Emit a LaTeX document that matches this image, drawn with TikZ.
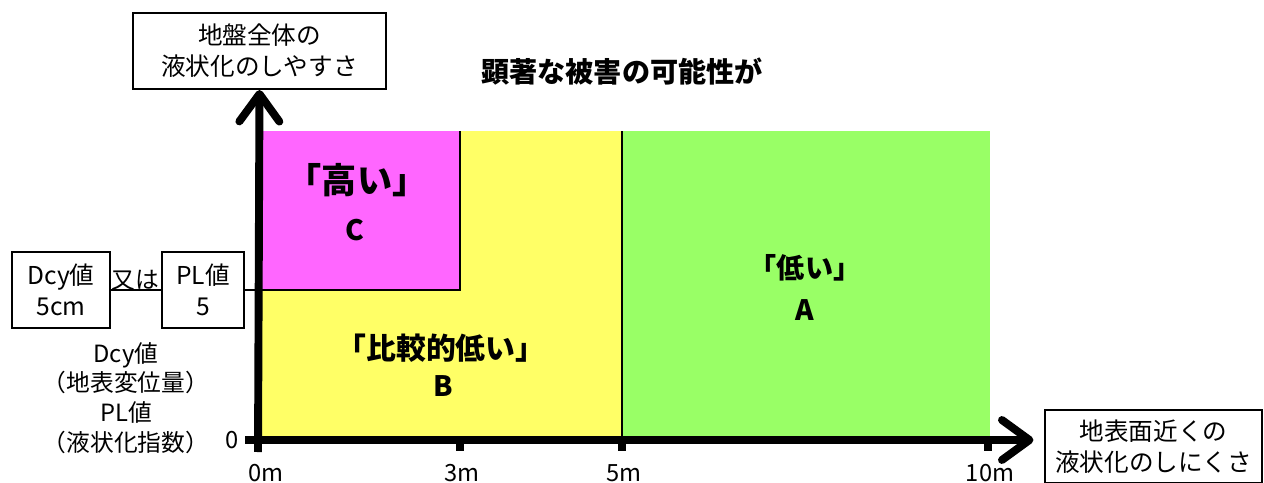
\documentclass[tikz,border=0pt]{standalone}
\usepackage{fontspec}
\setmainfont{Noto Sans CJK JP}
\usetikzlibrary{arrows.meta}
\definecolor{cmag}{HTML}{FF66FF}
\definecolor{cyel}{HTML}{FFFF66}
\definecolor{cgrn}{HTML}{99FF66}
\begin{document}
\begin{tikzpicture}[x=0.02cm,y=-0.02cm,
  lbl/.style={font=\fontsize{13.5}{17}\selectfont,align=center,inner sep=0pt},
  big/.style={font=\fontsize{16}{20}\selectfont\bfseries,align=center,inner sep=0pt},
  boxed/.style={draw,line width=1.2pt,align=center,font=\fontsize{14}{17.5}\selectfont,inner sep=0pt},
  axis/.style={line width=4.5pt,-{Straight Barb[length=5.5mm,width=8mm,line cap=round,line join=round]}},
  tick/.style={line width=4pt},
  thin/.style={line width=1.2pt}]
\useasboundingbox (0,0) rectangle (1264,483);
% regions
\fill[cyel] (262,131) rectangle (622,440);
\fill[cgrn] (622,131) rectangle (990,440);
\fill[cmag] (262,131) rectangle (460,290);
\draw[thin] (460,131) -- (460,290) -- (262,290);
\draw[thin] (622,131) -- (622,440);
% boxes
\node[boxed,minimum width=253*0.02cm,minimum height=76*0.02cm] (ybox) at (259.5,51) {地盤全体の\\液状化のしやすさ};
\node[boxed,minimum width=217*0.02cm,minimum height=73*0.02cm] (xbox) at (1153.5,446.5) {地表面近くの\\液状化のしにくさ};
\node[boxed,minimum width=98*0.02cm,minimum height=76*0.02cm] (dcy) at (61,290) {Dcy値\\5cm};
\node[boxed,minimum width=82*0.02cm,minimum height=76*0.02cm] (pl) at (203,290) {PL値\\5};
\node[lbl,anchor=south] (mata) at (135,290.5) {又は};
% axes
\coordinate (O) at (258,440);
\coordinate (ybot) at (258,452);
\coordinate (xleft) at (245,440);
\coordinate (yl) at (258,290);
\draw[axis] (ybot) -- (ybox.south);
\draw[axis] (xleft) -- ([xshift=-6]xbox.west|-O);
\draw[thin] (dcy.east|-yl) -- (pl.west|-yl);
\draw[thin] (pl.east|-yl) -- (yl);
% ticks
\coordinate (t3) at (460,440);
\coordinate (t5) at (622,440);
\coordinate (t10) at (988,440);
\coordinate (t3b) at (460,451);
\coordinate (t5b) at (622,451);
\coordinate (t10b) at (988,451);
\draw[tick] (t3) -- (t3b);
\draw[tick] (t5) -- (t5b);
\draw[tick] (t10) -- (t10b);
% labels
\node[lbl] (l0m) at (266,473) {0m};
\node[lbl] (l3m) at (462,473) {3m};
\node[lbl] (l5m) at (624,473) {5m};
\node[lbl] (l10m) at (990,473) {10m};
\node[lbl] (l0) at (232,440) {0};
\node[lbl] (desc) at (126,398) {Dcy値\\（地表変位量）\\PL値\\（液状化指数）};
\node[big] (title) at (622,72) {顕著な被害の可能性が};
\node[big,font=\fontsize{20}{24}\selectfont\bfseries] (hi) at (357,180) {「高い」};
\node[big] (hiC) at (355,230) {C};
\node[big] (lo) at (805,268) {「低い」};
\node[big] (loA) at (805,310) {A};
\node[big,font=\fontsize{17}{20}\selectfont\bfseries] (mid) at (441,348) {「比較的低い」};
\node[big] (midB) at (443,386) {B};
\end{tikzpicture}
\end{document}
